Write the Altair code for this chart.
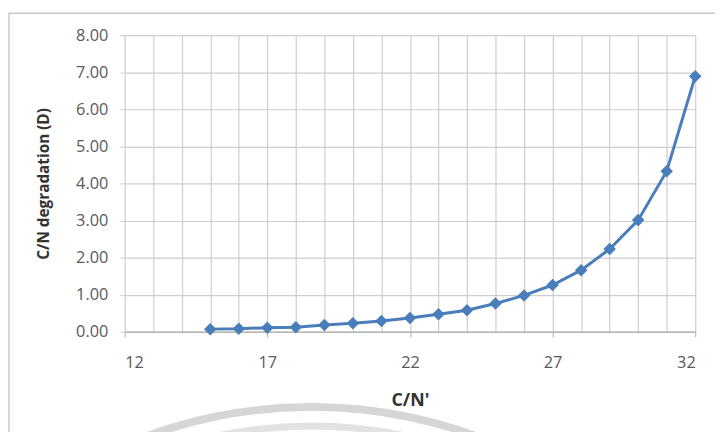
import altair as alt
import pandas as pd

# Data
cn_prime = [15, 16, 17, 18, 19, 20, 21, 22, 23, 24, 25, 26, 27, 28, 29, 30, 31, 32]
degradation = [0.07, 0.08, 0.11, 0.12, 0.18, 0.23, 0.29, 0.37, 0.47, 0.58,
               0.76, 0.98, 1.26, 1.66, 2.23, 3.01, 4.33, 6.89]

x_grid_values = list(range(12, 33))
y_tick_values = [0, 1, 2, 3, 4, 5, 6, 7, 8]

df = pd.DataFrame({"cn": cn_prime, "d": degradation})

W, H = 577, 300
FONT = "Open Sans"
BLUE = "#4A7EBB"
GRID = "#cdcdcd"

x_scale = alt.Scale(domain=[12, 32], nice=False, zero=False)
y_scale = alt.Scale(domain=[0, 8], nice=False)

x_axis = alt.Axis(
    title="C/N'",
    values=x_grid_values,
    labelExpr="(datum.value - 12) % 5 == 0 ? datum.label : ''",
    labelOverlap=False,
    grid=True,
    gridColor=GRID,
    gridWidth=1.2,
    domainColor="#aaaaaa",
    domainWidth=1.3,
    tickColor={"condition": {"test": "(datum.value - 12) % 5 == 0", "value": "#aaaaaa"}, "value": "transparent"},
    tickSize=5,
    labelPadding=18,
    labelFont=FONT,
    labelFontSize=16.5,
    labelColor="#595959",
    titleFont=FONT,
    titleFontSize=18,
    titleFontWeight="bold",
    titleColor="#333333",
    titleY=70,
    titleBaseline="middle",
)

y_axis = alt.Axis(
    title="C/N degradation (D)",
    values=y_tick_values,
    format=".2f",
    labelOverlap=False,
    grid=True,
    gridColor=GRID,
    gridWidth=1.2,
    domain=False,
    tickColor=GRID,
    tickSize=5,
    labelPadding=12,
    labelFont=FONT,
    labelFontSize=16.5,
    labelColor="#595959",
    titleFont=FONT,
    titleFontSize=15.5,
    titleFontWeight="bold",
    titleColor="#333333",
    titleAngle=270,
    titleX=-82,
    titleY=150,
    titleAlign="center",
    titleBaseline="middle",
)

line = alt.Chart(df).mark_line(
    color=BLUE,
    strokeWidth=3,
    point=alt.OverlayMarkDef(shape="diamond", filled=True, color=BLUE, size=160, opacity=1),
).encode(
    x=alt.X("cn:Q", scale=x_scale, axis=x_axis),
    y=alt.Y("d:Q", scale=y_scale, axis=y_axis),
)

# outer light-gray frame (decoration)
frame = alt.Chart(pd.DataFrame({"a": [0]})).mark_rect(
    fill="transparent", stroke="#c8c8c8", strokeWidth=1.5
).encode(
    x=alt.value(-117), x2=alt.value(620),
    y=alt.value(-22), y2=alt.value(420),
)

# faint watermark arcs at the bottom (decoration)
arc_outer = alt.Chart(pd.DataFrame({"a": [0]})).mark_arc(color="#d6d6d6").encode(
    x=alt.value(189), y=alt.value(859),
    theta=alt.value(5.88), theta2=alt.value(6.69),
    radius=alt.value(487), radius2=alt.value(479),
)
arc_inner = alt.Chart(pd.DataFrame({"a": [0]})).mark_arc(color="#e2e2e2").encode(
    x=alt.value(189), y=alt.value(859),
    theta=alt.value(6.03), theta2=alt.value(6.54),
    radius=alt.value(467), radius2=alt.value(460),
)

chart = alt.layer(frame, arc_outer, arc_inner, line).properties(
    width=W,
    height=H,
    autosize=alt.AutoSizeParams(type="none"),
    padding={"left": 118, "top": 25, "right": 20, "bottom": 99},
    background="white",
).configure_view(stroke=None)

chart.save("out.html", embed_options={"renderer": "svg", "actions": False})
